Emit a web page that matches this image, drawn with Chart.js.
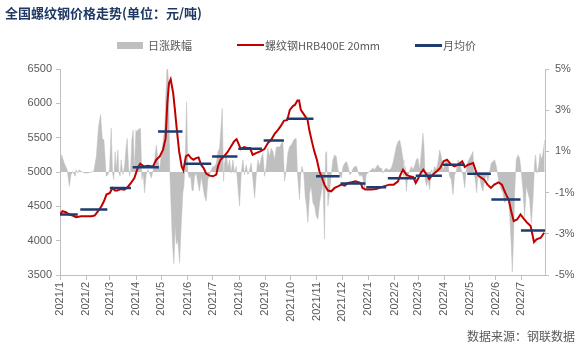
<!DOCTYPE html>
<html><head><meta charset="utf-8">
<script src="https://cdn.jsdelivr.net/npm/chart.js@4/dist/chart.umd.min.js"></script>
<style>
html,body{margin:0;padding:0;background:#fff;}
#wrap{position:relative;width:586px;height:359px;overflow:hidden;background:#fff;}
#c{position:absolute;left:0;top:0;}
.t{position:absolute;white-space:nowrap;color:#595959;font-family:"Noto Sans CJK SC","Liberation Sans",sans-serif;}
#title{left:5px;top:4px;font-size:13px;font-weight:bold;color:#1F3864;line-height:18px;}
.lg{top:38px;font-size:11px;line-height:15px;}
.sw{position:absolute;}
#src{left:467px;top:328px;font-size:12px;line-height:16px;}
</style></head>
<body><div id="wrap">
<canvas id="c" width="586" height="359"></canvas>
<div class="t" id="title">全国螺纹钢价格走势(单位：元/吨)</div>
<div class="sw" style="left:117px;top:42px;width:26px;height:7px;background:#BFBFBF"></div>
<div class="t lg" style="left:148px">日涨跌幅</div>
<div class="sw" style="left:237px;top:44px;width:27px;height:2px;background:#C00000"></div>
<div class="t lg" style="left:265px">螺纹钢HRB400E 20mm</div>
<div class="sw" style="left:415px;top:44px;width:27px;height:2.5px;background:#1F3B70"></div>
<div class="t lg" style="left:443px">月均价</div>
<div class="t" id="src">数据来源：钢联数据</div>
</div>
<script>
// x values are days counted from START_DATE
const START_DATE = '2021-01-01';
const END_DATE = '2022-07-29';
const monthLabels = ['2021/1','2021/2','2021/3','2021/4','2021/5','2021/6','2021/7','2021/8','2021/9','2021/10','2021/11','2021/12','2022/1','2022/2','2022/3','2022/4','2022/5','2022/6','2022/7'];
const leftTicks = [3500,4000,4500,5000,5500,6000,6500];
const rightTicks = [-5,-3,-1,1,3,5];

// 螺纹钢HRB400E 20mm price
const priceDay = [0,3,7,11,15,19,25,31,37,41,45,49,52,55,59,62,65,68,72,76,80,84,88,92,95,99,104,110,114,118,122,125,127,129,131,134,136,138,141,144,146,149,152,155,158,161,164,167,170,173,177,181,185,187,190,194,198,202,206,209,211,214,218,222,225,228,232,237,242,246,250,254,258,261,265,269,272,276,278,281,283,285,289,293,295,298,301,304,307,310,313,317,321,325,329,333,337,341,345,350,356,358,362,368,374,380,386,390,395,400,403,406,410,414,418,421,424,427,430,435,437,441,446,450,454,458,463,467,471,476,479,483,489,493,496,502,506,510,514,519,523,527,531,534,537,541,545,549,553,557,561,564,569,573];
const priceVal = [4381,4429,4415,4381,4366,4342,4357,4357,4357,4366,4429,4502,4574,4671,4695,4768,4729,4729,4753,4744,4778,4840,4913,5058,5121,5082,5092,5082,5179,5227,5324,5493,6001,6291,6350,6146,5905,5650,5300,5082,5024,5227,5251,5203,5179,5203,5213,5106,5058,4976,4947,4937,4961,5082,5179,5227,5285,5363,5445,5479,5421,5334,5363,5348,5348,5251,5276,5300,5334,5421,5469,5556,5614,5663,5745,5759,5905,5963,5977,6040,6040,5905,5832,5759,5614,5450,5300,5179,5010,4920,4816,4730,4719,4768,4792,4816,4802,4840,4850,4865,4840,4768,4744,4744,4753,4778,4802,4816,4816,4865,4961,5034,4961,4937,4927,4840,4910,4985,5034,4940,4898,4961,5010,5058,5155,5179,5106,5082,5106,5155,5073,5106,5131,4985,4937,4889,4816,4768,4816,4850,4816,4695,4598,4429,4284,4308,4381,4318,4260,4212,3979,4018,4042,4115];

// 日涨跌幅 (%)
const changeDay = [0,2,5,8.5,11,13,15,18,19,21,23,25,29,33,37,40,43,45.6,48,50,52,53.5,54.7,56.6,58.6,60.6,62.2,63.7,65.3,66.5,68.5,69.7,71.2,72.4,74.4,76.4,78.3,79.5,81.1,82.3,83.5,85,86.6,88.2,89.8,91.4,92.9,95.3,96.9,98.5,100,102,104,106,108,110,112,114,116,118,120,122,124,125.3,126.9,128.4,130,131.6,133.2,134.8,136.3,137.7,139.5,141.5,143.4,145.4,146.6,148.2,149.8,151.3,152.9,154.5,156.1,157.6,159.2,161.2,163.2,165.1,167.1,169.1,171.1,173,175,177,179,181,183,185,187,188.8,190.8,192,193.6,194.7,196.7,198.7,200.7,202.6,204.6,206.6,208.6,210.5,212.5,214.5,216.4,218.4,220.4,222.4,224.3,226.3,228.3,230.3,232.2,234.2,236.2,238.1,240.1,242.1,244.1,246,248,250,252,254,256,258,260,262,263.8,265.8,267.8,269.7,271.7,273.7,275.6,277.6,279.6,281,283.5,284.7,286.3,288.7,290.2,291.8,293.4,295.4,297.3,299.3,301.3,303.3,305.2,307.2,309.2,311.2,313.1,314.3,315.5,317.1,319,321,323,325,327,329,331,333,335,337,339,341,343,345,347,349,351,353,355,357,358.5,360.5,362.4,364.4,366.4,368.4,370.3,372.3,374.3,376.3,378.2,380.2,382.2,384.2,386.1,388.1,390.1,392.1,394,396,398,400,402,404,406,407,408.6,409.8,411.8,413.7,415.7,417.7,419.7,421.7,423.6,425.6,427.6,429.5,430.7,432.3,433.9,435.5,437.4,439.4,441.4,443.4,445.3,447.3,449.3,451.3,453.2,455.2,457.2,459.1,461.1,463.1,465.1,467,469,471,473,474.9,476.9,478.9,480.8,482.8,484.8,486.8,488.7,489.9,491.5,493.1,494.7,496.6,498.6,500.6,502.5,504.5,506.5,508.5,510.4,512.4,514.4,516.4,518.3,520.3,522.3,524.3,526.2,528.2,530.2,532.1,534.1,535.3,536.9,538.1,540,542,544,546,548,549.9,551.9,553.8,555.8,557.8,559.8,561.7,562.9,564.5,566.5,568.1,569.7,571.6,573.6];
const changePct = [0.45,0.83,0.43,0.11,-0.69,-0.13,0.03,-0.21,0.11,-0.05,0.11,0.03,-0.05,-0.05,0,0.03,0.75,2.18,2.79,1.63,1.55,0.59,-0.21,-0.13,0.11,2.12,-0.05,-0.37,0.99,0.11,1.07,-0.05,-0.21,0.59,-0.13,0.27,1.23,1.63,0.27,-0.21,0.11,1.55,2.03,0.11,2.03,1.95,2.08,2.11,-0.37,-0.05,-1.01,-0.13,0.11,-0.05,-0.29,0.03,0.59,1.31,0.59,0.11,0.91,1.47,2.18,3.78,5.3,4.41,0,-1.81,-3.57,-4.45,-2.63,-3.5,-3.33,-4.4,-2.62,-1.01,-0.69,0.59,3.4,0,-0.29,-0.13,-0.85,-0.93,-0.21,-0.05,-0.53,-0.93,-0.21,-0.69,-1.17,-1.41,-0.37,-0.13,0.11,0.27,0.27,0.43,0.99,1.15,2.28,3.08,-0.45,0.43,0.91,0.19,0.59,-0.05,0.59,-0.05,0.27,-0.69,-1.65,-0.05,0.59,-0.13,0.35,-0.13,0.11,0.43,-0.37,-1.25,-0.21,0.59,0.27,0.67,0.91,-0.21,0.27,1.15,0.75,1.15,0.99,0.59,1.2,1.23,1.2,1.39,1.47,-0.45,0.11,0.91,1.23,1.31,1.47,1.6,1.63,-0.05,-1.33,-0.21,0.27,-0.13,-1.17,-1.65,-2.45,-1.01,-0.69,-1.49,-1.65,-2.13,-2.29,-1.49,-1.01,-0.53,-3.25,0.91,0.99,-1.65,-1.01,-0.13,0.59,0.83,0.75,0.11,-0.13,-0.29,0.27,0.43,0.51,0.27,-0.13,-0.05,0.19,0.27,0.27,-0.05,-0.21,-0.13,-0.29,-0.93,-0.13,-0.05,0.03,0.11,0.19,0.11,0.24,0.35,0.19,0.19,-0.05,0.11,0.19,0.11,0.11,0.19,0.43,0.83,1.23,1.47,1.55,1.15,0.59,-0.21,0.27,-0.93,-0.13,0.03,0.27,0.11,0.3,0.59,0.67,0.11,0.91,1.88,1.31,-0.37,-0.69,-0.37,-0.85,0.11,-0.05,0.27,0.11,0.43,1.07,0.75,0.11,0.27,0.59,0.43,-0.21,-0.37,-1.09,-0.13,0.03,0.59,0.43,0.11,-0.13,-0.77,0.11,0.51,0.67,0.83,0.99,-0.05,-0.37,-1.01,-0.05,-0.21,-0.69,-0.93,-0.37,-0.13,-0.45,0.03,0.43,0.51,0.59,0.27,-0.21,-0.61,-0.85,-1.01,-1.49,-1.33,-1.01,-1.97,-3.57,-4.86,-2.95,-1.01,0.59,0.83,0.67,-0.05,-0.93,-2.2,-0.69,-1.01,-1.33,-2.5,-1.33,0.43,0.83,-0.05,0.27,0.91,0.59,0.91,1.55];

// 月均价 (monthly average), drawn from first to last day of each month block
const avgStart = [0,24,59,86,116,147,180,211,241,268,303,332,362.5,388,421,453,482,510.5,545.5];
const avgEnd   = [21,56,84,117,145,179,210,239,265,300,331,361.5,386,421.5,452,479,510,545,574];
const avgVal   = [4381,4453,4768,5068,5590,5121,5227,5339,5460,5774,4937,4831,4778,4908,4947,5106,4976,4598,4149];

const dayOf = (s) => { const p = s.split(/[-\/]/).map(Number); return (Date.UTC(p[0], p[1]-1, p[2]||1) - Date.UTC(2021,0,1)) / 864e5; };
const xMin = dayOf(START_DATE), xMax = dayOf(END_DATE);
const monthDays = monthLabels.map(dayOf);

const priceData = priceDay.map((d,i)=>({x:d,y:priceVal[i]}));
const changeData = changeDay.map((d,i)=>({x:d,y:changePct[i]}));
const avgData = [];
avgVal.forEach((v,i)=>{ avgData.push({x:avgStart[i],y:v},{x:avgEnd[i],y:v},{x:avgEnd[i],y:null}); });

const tickFont = {family:'"Liberation Sans", sans-serif', size:11};
const axisColor = '#BFBFBF';
const labelColor = '#595959';

new Chart(document.getElementById('c'), {
  type:'line',
  data:{datasets:[
    {label:'月均价', data:avgData, yAxisID:'y', borderColor:'#1F3B70', borderWidth:2.5, pointRadius:0, spanGaps:false, order:1, borderCapStyle:'butt'},
    {label:'螺纹钢HRB400E 20mm', data:priceData, yAxisID:'y', borderColor:'#C00000', borderWidth:2, pointRadius:0, tension:0, order:2},
    {label:'日涨跌幅', data:changeData, yAxisID:'y2', borderColor:'#BFBFBF', borderWidth:0.5, backgroundColor:'#BFBFBF', fill:'origin', pointRadius:0, tension:0, order:3}
  ]},
  options:{
    responsive:false, animation:false, devicePixelRatio:1,
    layout:{padding:{top:69,left:0,right:0,bottom:0}},
    plugins:{legend:{display:false}, tooltip:{enabled:false}},
    scales:{
      x:{type:'linear', min:xMin, max:xMax, position:'bottom',
        afterBuildTicks:(s)=>{ s.ticks = monthDays.map(v=>({value:v})); },
        afterFit:(s)=>{ s.height = 359-275; },
        ticks:{autoSkip:false, minRotation:90, maxRotation:90, padding:2, color:labelColor, font:tickFont,
          callback:(v,i)=>monthLabels[i]},
        grid:{drawOnChartArea:false, drawTicks:true, tickLength:5, color:axisColor},
        border:{display:true, color:axisColor}
      },
      y:{type:'linear', position:'left', min:3500, max:6500,
        afterBuildTicks:(s)=>{ s.ticks = leftTicks.map(v=>({value:v})); },
        afterFit:(s)=>{ s.width = 60; },
        ticks:{color:labelColor, font:tickFont, padding:4, callback:(v)=>String(v)},
        grid:{drawOnChartArea:false, drawTicks:true, tickLength:4, color:axisColor},
        border:{display:true, color:axisColor}
      },
      y2:{type:'linear', position:'right', min:-5, max:5,
        afterBuildTicks:(s)=>{ s.ticks = rightTicks.map(v=>({value:v})); },
        afterFit:(s)=>{ s.width = 41; },
        ticks:{color:labelColor, font:tickFont, padding:6, callback:(v)=>v+'%'},
        grid:{drawOnChartArea:false, drawTicks:true, tickLength:4, color:axisColor},
        border:{display:true, color:axisColor}
      }
    }
  }
});
</script>
</body></html>
